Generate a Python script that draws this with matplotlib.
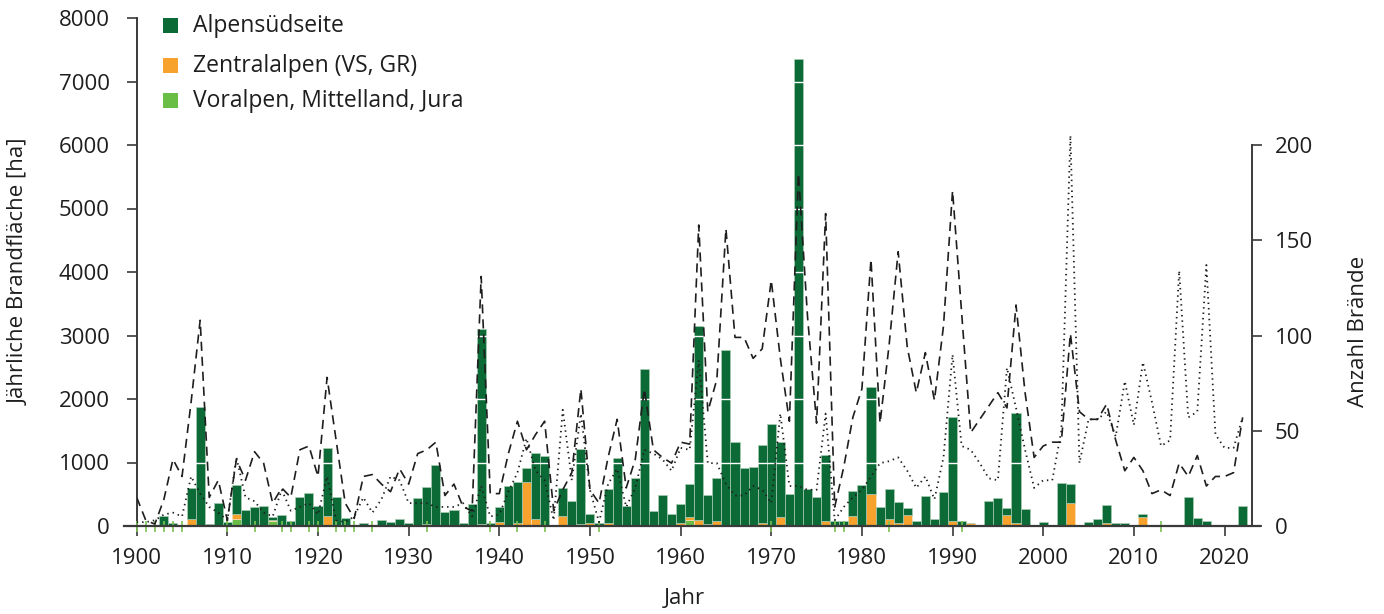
import matplotlib
matplotlib.use("Agg")
import matplotlib.pyplot as plt
import numpy as np
from matplotlib.patches import Rectangle
from matplotlib.transforms import blended_transform_factory

plt.rcParams['font.family'] = ['Open Sans', 'DejaVu Sans']

years = list(range(1900, 2023))

# total burnt area per year [ha] (top of stack)
total_area = [
    10, 5, 5, 165, 50, 15, 604, 1880, 30, 362,            # 1900-1909
    70, 646, 252, 304, 320, 147, 168, 76, 462, 520,       # 1910-1919
    310, 1223, 457, 121, 10, 50, 15, 89, 68, 110,         # 1920-1929
    40, 436, 610, 966, 226, 247, 40, 341, 3100, 50,       # 1930-1939
    304, 625, 688, 908, 1155, 1102, 10, 604, 388, 1207,   # 1940-1949
    194, 50, 577, 1076, 315, 761, 2467, 236, 483, 189,    # 1950-1959
    341, 656, 3155, 485, 756, 2772, 1323, 908, 924, 1270, # 1960-1969
    1612, 1323, 499, 7350, 577, 462, 1118, 75, 75, 546,   # 1970-1979
    651, 2184, 294, 588, 373, 289, 75, 467, 115, 535,     # 1980-1989
    1716, 84, 52, 20, 394, 441, 283, 1774, 262, 5,        # 1990-1999
    57, 5, 672, 661, 3, 57, 115, 325, 52, 40,             # 2000-2009
    5, 183, 20, 5, 20, 20, 451, 126, 75, 10,              # 2010-2019
    5, 15, 310,                                           # 2020-2022
]

# Zentralalpen (VS, GR) area [ha]
zentral_area = {
    1906: 115, 1911: 75, 1915: 15, 1921: 164, 1932: 35, 1938: 30, 1940: 63,
    1942: 40, 1943: 693, 1944: 115, 1947: 157, 1949: 30, 1950: 40, 1951: 20,
    1952: 40, 1959: 15, 1960: 40, 1961: 52, 1962: 90, 1963: 30, 1964: 84,
    1969: 40, 1970: 20, 1971: 147, 1973: 20, 1976: 75, 1979: 157, 1981: 504,
    1983: 105, 1984: 40, 1985: 173, 1990: 80, 1992: 40, 1996: 173, 1997: 52,
    2003: 357, 2007: 40, 2011: 147,
}

# Voralpen, Mittelland, Jura area [ha]
voralpen_area = {
    1900: 5, 1901: 3, 1911: 115, 1915: 85, 1961: 95, 1962: 10, 1977: 20, 1991: 15,
}
# years with very small Voralpen fires (marks at the axis)
voralpen_marks = [1900, 1901, 1902, 1903, 1904, 1905, 1910, 1913, 1916, 1917,
                  1919, 1920, 1922, 1923, 1924, 1926, 1932, 1939, 1942, 1945,
                  1951, 1970, 1977, 1978, 1983, 1991, 2013]

# number of fires (right axis)
fires_dashed = [
    15, 3, 1, 14, 35, 26, 65, 108, 15, 24,
    3, 35, 24, 39, 33, 12, 20, 15, 40, 42,
    26, 78, 45, 12, 4, 26, 27, 22, 18, 30,
    22, 38, 40, 44, 16, 22, 10, 8, 131, 17,
    17, 38, 55, 40, 48, 55, 8, 19, 28, 72,
    19, 12, 36, 56, 20, 35, 72, 40, 36, 33,
    44, 43, 158, 60, 77, 156, 99, 99, 88, 93,
    129, 88, 55, 185, 110, 54, 164, 10, 31, 57,
    72, 140, 54, 95, 144, 94, 70, 91, 66, 105,
    176, 112, 49, 56, 63, 70, 62, 116, 70, 36,
    42, 44, 44, 101, 60, 56, 56, 64, 45, 29,
    36, 29, 17, 19, 16, 33, 26, 37, 21, 26,
    26, 28, 57,
]
fires_dotted = [
    2, 2, 3, 6, 7, 5, 26, 17, 10, 7,
    3, 36, 15, 13, 7, 5, 19, 8, 10, 12,
    6, 26, 3, 2, 5, 15, 7, 14, 26, 24,
    12, 12, 12, 10, 10, 10, 12, 5, 21, 5,
    6, 18, 28, 46, 29, 24, 3, 61, 24, 59,
    19, 2, 22, 30, 10, 20, 40, 38, 35, 29,
    41, 40, 87, 33, 33, 22, 16, 16, 21, 19,
    12, 59, 21, 21, 19, 19, 59, 3, 10, 15,
    19, 26, 33, 34, 36, 29, 20, 26, 14, 36,
    90, 42, 40, 33, 25, 24, 83, 62, 40, 20,
    24, 24, 50, 205, 33, 56, 56, 60, 47, 76,
    53, 86, 65, 42, 45, 134, 57, 60, 137, 48,
    41, 41, 57,
]

legend_labels = ["Alpensüdseite", "Zentralalpen (VS, GR)", "Voralpen, Mittelland, Jura"]
colors = ["#0b6a36", "#f6a22c", "#6abd45"]

x = np.array(years)
tot = np.array(total_area, dtype=float)
zen = np.array([zentral_area.get(y, 0) for y in years], dtype=float)
vor = np.array([voralpen_area.get(y, 0) for y in years], dtype=float)
sud = tot - zen - vor

W, H = 1384, 614
fig = plt.figure(figsize=(W / 100, H / 100), dpi=100)
ax = fig.add_axes([136.7 / W, 88 / H, (1251.7 - 136.7) / W, 508 / H])

ax.bar(x, vor, width=1.0, color=colors[2], edgecolor="#d9eccf", linewidth=0.5, zorder=2)
ax.bar(x, zen, width=1.0, bottom=vor, color=colors[1], edgecolor="#fbe2bb", linewidth=0.5, zorder=2)
ax.bar(x, sud, width=1.0, bottom=vor + zen, color=colors[0], edgecolor="#a9cdb5", linewidth=0.5, zorder=2)

for g in range(1000, 8000, 1000):
    ax.axhline(g, color="white", lw=1.0, zorder=2.5)

ax.set_xlim(1900, 2023)
ax.set_ylim(0, 8000)
ax.set_yticks(range(0, 8001, 1000))
ax.set_xticks(range(1900, 2021, 10))
spine_col = "#3a3a3a"
for s in ["top", "right", "bottom"]:
    ax.spines[s].set_visible(False)
ax.spines["left"].set_color(spine_col)
ax.spines["left"].set_linewidth(1.4)
ax.plot([-0.011, 1.007], [0, 0], transform=ax.transAxes, color=spine_col, lw=1.6,
        clip_on=False, zorder=5)
ax.tick_params(axis="y", direction="out", length=7.5, width=1.2, color=spine_col,
               labelsize=16, labelcolor="#1e1e1e", pad=12)
ax.tick_params(axis="x", direction="out", length=7.5, width=1.2, color=spine_col,
               labelsize=16, labelcolor="#1e1e1e", pad=8)

trans = blended_transform_factory(ax.transData, ax.transAxes)
ax.vlines(voralpen_marks, -0.012, 0.009, transform=trans, colors="#7cc353",
          lw=1.2, clip_on=False, zorder=4)

ax2 = ax.twinx()
ax2.set_ylim(0, 8000 / 30)
ax2.plot(x, fires_dashed, color="#1e1e1e", lw=1.2, dashes=(5.5, 3.5), zorder=3)
ax2.plot(x, fires_dotted, color="#1e1e1e", lw=1.3, dashes=(0.8, 2.2), zorder=3)
ax2.set_yticks([0, 50, 100, 150, 200])
for s in ["top", "left", "bottom"]:
    ax2.spines[s].set_visible(False)
ax2.spines["right"].set_bounds(0, 200)
ax2.spines["right"].set_color(spine_col)
ax2.spines["right"].set_linewidth(1.4)
ax2.tick_params(axis="y", direction="out", length=7.5, width=1.2, color=spine_col,
                labelsize=16, labelcolor="#1e1e1e", pad=9)

# legend
sq_y = [25.7, 65.7, 100.7]
for lab, col, yc in zip(legend_labels, colors, sq_y):
    fig.patches.append(Rectangle((162.7 / W, 1 - (yc + 7.7) / H), 15.5 / W, 15.5 / H,
                                 transform=fig.transFigure, facecolor=col, edgecolor="none"))
    fig.text(193.3 / W, 1 - yc / H, lab, fontsize=16.5, color="#1e1e1e",
             ha="left", va="center")

fig.text(19 / W, 1 - 272 / H, "Jährliche Brandfläche [ha]", rotation=90, fontsize=16,
         color="#1e1e1e", ha="center", va="center")
fig.text(1358 / W, 1 - 331 / H, "Anzahl Brände", rotation=90, fontsize=16,
         color="#1e1e1e", ha="center", va="center")
fig.text(684 / W, 1 - 599 / H, "Jahr", fontsize=16, color="#1e1e1e", ha="center", va="center")

fig.savefig("out.png", dpi=100)
